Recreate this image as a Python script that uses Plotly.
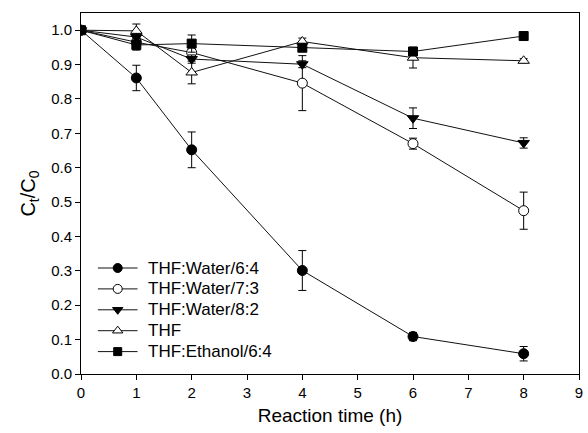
import plotly.graph_objects as go

# Reaction time (h)
time_h = [0, 1, 2, 4, 6, 8]

# Ct/C0 for each solvent system, with standard deviations
names = ["THF:Water/6:4", "THF:Water/7:3", "THF:Water/8:2", "THF", "THF:Ethanol/6:4"]
water_64 = [1.0, 0.861, 0.652, 0.301, 0.109, 0.059]
water_64_err = [0.005, 0.037, 0.052, 0.058, 0.012, 0.021]
water_73 = [1.0, 0.965, 0.935, 0.846, 0.670, 0.475]
water_73_err = [0.005, 0.01, 0.015, 0.080, 0.016, 0.054]
water_82 = [1.0, 0.980, 0.916, 0.901, 0.744, 0.672]
water_82_err = [0.005, 0.01, 0.012, 0.01, 0.030, 0.015]
thf = [1.0, 0.998, 0.877, 0.967, 0.920, 0.911]
thf_err = [0.005, 0.020, 0.033, 0.01, 0.030, 0.006]
ethanol_64 = [1.0, 0.957, 0.961, 0.949, 0.938, 0.983]
ethanol_64_err = [0.005, 0.015, 0.025, 0.01, 0.012, 0.005]

series = [water_64, water_73, water_82, thf, ethanol_64]
errors = [water_64_err, water_73_err, water_82_err, thf_err, ethanol_64_err]
symbols = ["circle", "circle", "triangle-down", "triangle-up", "square"]
fills = ["black", "white", "black", "white", "black"]
sizes = [10, 10, 10, 10, 9]

# plot area in pixels (left, right, top, bottom)
L, R, T, B = 81, 583, 13, 374
font = "Liberation Sans, Arial, sans-serif"

fig = go.Figure()
for name, y, err, sym, fill, sz in zip(names, series, errors, symbols, fills, sizes):
    fig.add_trace(go.Scatter(
        x=time_h, y=y, name=name, mode="lines+markers",
        line=dict(color="#111111", width=1),
        marker=dict(symbol=sym, size=sz, color=fill, line=dict(color="black", width=1)),
        error_y=dict(type="data", array=err, visible=True, color="black",
                     thickness=1, width=4),
        showlegend=False,
    ))

# Compact key: a pixel-scaled overlay axis pair holds the samples and labels
key_x0, key_len, key_text_gap = 98, 40, 9
key_y0, key_step = 268, 20.9
annotations = []
for i, (name, sym, fill, sz) in enumerate(zip(names, symbols, fills, sizes)):
    ry = key_y0 + i * key_step
    fig.add_trace(go.Scatter(
        x=[key_x0, key_x0 + key_len], y=[ry, ry],
        mode="lines", xaxis="x2", yaxis="y2", showlegend=False,
        hoverinfo="skip", cliponaxis=False,
        line=dict(color="#111111", width=1),
    ))
    fig.add_trace(go.Scatter(
        x=[key_x0 + key_len / 2], y=[ry],
        mode="markers", xaxis="x2", yaxis="y2", showlegend=False,
        hoverinfo="skip", cliponaxis=False,
        marker=dict(symbol=sym, size=sz - 1, color=fill, line=dict(color="black", width=1)),
    ))
    annotations.append(dict(
        x=key_x0 + key_len + key_text_gap, y=ry, xref="x2", yref="y2",
        text=name, showarrow=False, xanchor="left", yanchor="middle",
        font=dict(size=17, family=font, color="black"),
    ))

axis_common = dict(
    showgrid=False, zeroline=False,
    showline=True, linecolor="black", linewidth=1, mirror=True,
    ticks="outside", ticklen=5, tickcolor="black",
    tickfont=dict(size=15, family=font, color="black"),
)

fig.update_layout(
    width=588, height=433,
    margin=dict(l=L, r=588 - R, t=T, b=433 - B),
    paper_bgcolor="white", plot_bgcolor="white",
    font=dict(family=font, color="black", size=15),
    showlegend=False,
    annotations=annotations,
    xaxis=dict(
        range=[0, 9], dtick=1, tick0=0, tickmode="linear",
        title=dict(text="Reaction time (h)", font=dict(size=19, family=font), standoff=8),
        **axis_common,
    ),
    yaxis=dict(
        range=[0, 1.05], dtick=0.1, tick0=0, tickmode="linear", tickformat=".1f",
        title=dict(text="C<sub>t</sub>/C<sub>0</sub>", font=dict(size=20, family=font), standoff=10),
        **axis_common,
    ),
    xaxis2=dict(overlaying="x", anchor="y2", range=[L, R], visible=False, fixedrange=True),
    yaxis2=dict(overlaying="y", anchor="x2", range=[B, T], visible=False, fixedrange=True),
)

fig.write_html("out.html")
